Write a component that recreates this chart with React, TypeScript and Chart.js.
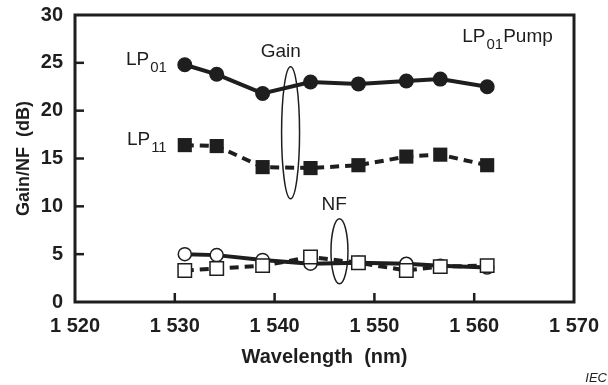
import React, { useEffect, useRef } from "react";
import { Chart, registerables } from "chart.js";

Chart.register(...registerables);

const wavelengths = [1531.0, 1534.2, 1538.8, 1543.6, 1548.4, 1553.2, 1556.6, 1561.3];
const lp01Gain = [24.8, 23.8, 21.8, 23.0, 22.8, 23.1, 23.3, 22.5];
const lp11Gain = [16.4, 16.3, 14.1, 14.0, 14.3, 15.2, 15.4, 14.3];
const lp01NF = [5.0, 4.9, 4.4, 4.0, 4.1, 4.0, 3.8, 3.6];
const lp11NF = [3.3, 3.5, 3.8, 4.7, 4.1, 3.3, 3.7, 3.8];

const xTicks = [1520, 1530, 1540, 1550, 1560, 1570];
const yTicks = [0, 5, 10, 15, 20, 25, 30];

const INK = "#1e1e1e";
const FONT = "'Liberation Sans', Arial, Helvetica, sans-serif";

const pts = (ys: number[]) => wavelengths.map((x, i) => ({ x, y: ys[i] }));

function drawSub(ctx: CanvasRenderingContext2D, parts: [string, boolean][], x: number, y: number, size: number) {
  let cx = x;
  for (const [t, sub] of parts) {
    ctx.font = `${sub ? Math.round(size * 0.78) : size}px ${FONT}`;
    ctx.fillText(t, cx, sub ? y + 7 : y);
    cx += ctx.measureText(t).width + (sub ? 0 : 1);
  }
}

const decorPlugin = {
  id: "decor",
  afterDraw(chart: any) {
    const { ctx, chartArea: a, scales } = chart;
    const xs = scales.x, ys = scales.y;
    ctx.save();
    ctx.strokeStyle = INK;
    ctx.lineWidth = 3;
    ctx.strokeRect(a.left, a.top, a.right - a.left, a.bottom - a.top);
    ctx.lineWidth = 2.5;
    for (const t of xTicks.slice(1, -1)) {
      const px = xs.getPixelForValue(t);
      ctx.beginPath();
      ctx.moveTo(px, a.bottom);
      ctx.lineTo(px, a.bottom - 9);
      ctx.stroke();
    }
    for (const t of yTicks.slice(1, -1)) {
      const py = ys.getPixelForValue(t);
      ctx.beginPath();
      ctx.moveTo(a.left, py);
      ctx.lineTo(a.left + 9, py);
      ctx.stroke();
    }
    // ellipses
    ctx.lineWidth = 1.5;
    const ell = (cxv: number, cyv: number, rxv: number, ryv: number) => {
      const cx = xs.getPixelForValue(cxv), cy = ys.getPixelForValue(cyv);
      const rx = Math.abs(xs.getPixelForValue(cxv + rxv) - cx);
      const ry = Math.abs(ys.getPixelForValue(cyv + ryv) - cy);
      ctx.beginPath();
      ctx.ellipse(cx, cy, rx, ry, 0, 0, Math.PI * 2);
      ctx.stroke();
    };
    ell(1541.6, 17.7, 0.9, 6.9);
    ell(1546.5, 5.3, 0.85, 3.4);
    // labels
    ctx.fillStyle = INK;
    ctx.textBaseline = "alphabetic";
    ctx.textAlign = "left";
    drawSub(ctx, [["LP", false], ["01", true]], xs.getPixelForValue(1525.1), ys.getPixelForValue(24.8), 19);
    drawSub(ctx, [["LP", false], ["11", true]], xs.getPixelForValue(1525.2), ys.getPixelForValue(16.4), 19);
    drawSub(ctx, [["LP", false], ["01", true], ["Pump", false]], xs.getPixelForValue(1558.8), ys.getPixelForValue(27.2), 19);
    ctx.font = `19px ${FONT}`;
    ctx.fillText("Gain", xs.getPixelForValue(1538.6), ys.getPixelForValue(25.6));
    ctx.fillText("NF", xs.getPixelForValue(1544.7), ys.getPixelForValue(9.6));
    ctx.font = `italic 13px ${FONT}`;
    ctx.textAlign = "right";
    ctx.fillText("IEC", chart.width - 1, chart.height - 3);
    ctx.restore();
  },
};

export default function App() {
  const ref = useRef<HTMLCanvasElement>(null);
  useEffect(() => {
    const chart = new Chart(ref.current!, {
      type: "line",
      data: {
        datasets: [
          {
            label: "LP01 Gain",
            data: pts(lp01Gain),
            borderColor: INK,
            backgroundColor: INK,
            borderWidth: 4,
            pointStyle: "circle",
            pointRadius: 7.5,
            pointBorderWidth: 0,
          },
          {
            label: "LP11 Gain",
            data: pts(lp11Gain),
            borderColor: INK,
            backgroundColor: INK,
            borderWidth: 4,
            borderDash: [9, 6],
            pointStyle: "rect",
            pointRadius: 10,
            pointBorderWidth: 0,
          },
          {
            label: "LP11 NF",
            data: pts(lp11NF),
            borderColor: INK,
            backgroundColor: "#ffffff",
            borderWidth: 4,
            borderDash: [9, 6],
            pointStyle: "rect",
            pointRadius: 9.5,
            pointBorderWidth: 1.5,
            pointBorderColor: INK,
          },
          {
            label: "LP01 NF",
            data: pts(lp01NF),
            borderColor: INK,
            backgroundColor: "#ffffff",
            borderWidth: 4,
            pointStyle: "circle",
            pointRadius: 6.5,
            pointBorderWidth: 1.5,
            pointBorderColor: INK,
          },
        ],
      },
      options: {
        responsive: false,
        animation: false,
        events: [],
        layout: { padding: { top: 15, right: 34, left: 0, bottom: 0 } },
        plugins: { legend: { display: false }, tooltip: { enabled: false } },
        scales: {
          x: {
            type: "linear",
            min: 1520,
            max: 1570,
            afterBuildTicks: (s: any) => {
              s.ticks = xTicks.map((v) => ({ value: v }));
            },
            afterFit: (s: any) => {
              s.height = 83;
              s.paddingLeft = 0;
              s.paddingRight = 0;
            },
            grid: { display: false, drawTicks: false },
            border: { display: false },
            ticks: {
              padding: 12,
              color: INK,
              font: { family: FONT, size: 20, weight: "bold" },
              maxRotation: 0,
              callback: (v: any) => {
                const s = String(v);
                return s.slice(0, 1) + " " + s.slice(1);
              },
            },
            title: {
              display: true,
              text: "Wavelength  (nm)",
              color: INK,
              font: { family: FONT, size: 20, weight: "bold" },
              padding: { top: 0, bottom: 16 },
            },
          },
          y: {
            min: 0,
            max: 30,
            afterBuildTicks: (s: any) => {
              s.ticks = yTicks.map((v) => ({ value: v }));
            },
            afterFit: (s: any) => {
              s.width = 75;
              s.paddingTop = 0;
              s.paddingBottom = 0;
            },
            grid: { display: false, drawTicks: false },
            border: { display: false },
            ticks: {
              padding: 12,
              color: INK,
              font: { family: FONT, size: 20, weight: "bold" },
            },
            title: {
              display: true,
              text: "Gain/NF  (dB)",
              color: INK,
              font: { family: FONT, size: 18, weight: "bold" },
              padding: { top: 13, bottom: 0 },
            },
          },
        },
      },
      plugins: [decorPlugin],
    } as any);
    return () => chart.destroy();
  }, []);
  return (
    <div style={{ position: "absolute", left: 0, top: 0, width: 608, height: 385, background: "#fff" }}>
      <canvas ref={ref} width={608} height={385} />
    </div>
  );
}
